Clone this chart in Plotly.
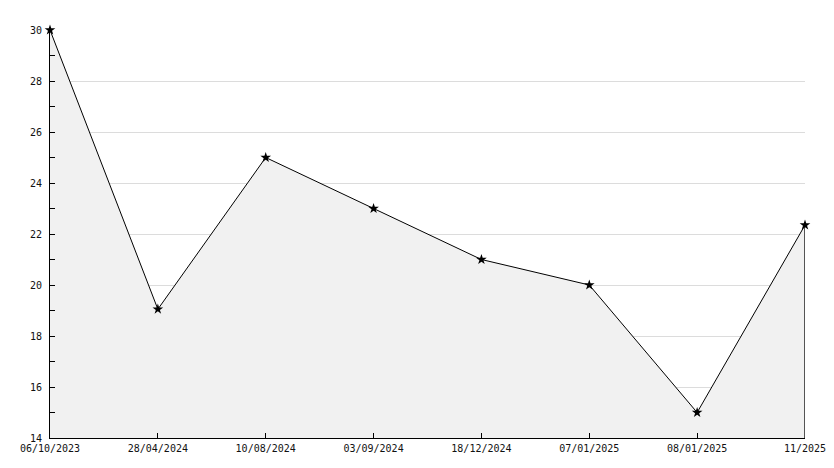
import plotly.graph_objects as go

dates = ["06/10/2023", "28/04/2024", "10/08/2024", "03/09/2024",
         "18/12/2024", "07/01/2025", "08/01/2025", "11/2025"]
values = [30, 19.05, 25, 23, 21, 20, 15, 22.35]
y_min, y_max = 14, 30
y_ticks = [14, 16, 18, 20, 22, 24, 26, 28, 30]

fig = go.Figure()
fig.add_trace(go.Scatter(
    x=dates, y=values, mode="lines",
    line=dict(color="black", width=1),
    fill="tozeroy", fillcolor="#f1f1f1",
    hoverinfo="skip", showlegend=False, cliponaxis=False,
))
# right edge closing line of the area
fig.add_trace(go.Scatter(
    x=[dates[-1], dates[-1]], y=[y_min, values[-1]], mode="lines",
    line=dict(color="black", width=1.3), hoverinfo="skip", showlegend=False,
    cliponaxis=False,
))
fig.add_trace(go.Scatter(
    x=dates, y=values, mode="markers",
    marker=dict(symbol="star", size=8, color="black"),
    hoverinfo="x+y", showlegend=False, cliponaxis=False,
))

fig.update_layout(
    width=834, height=468,
    margin=dict(l=50, r=29, t=30, b=30),
    paper_bgcolor="white", plot_bgcolor="white",
    font=dict(family="DejaVu Sans Mono", size=10, color="#111"),
    xaxis=dict(
        type="category", categoryorder="array", categoryarray=dates,
        range=[0, len(dates) - 1], automargin=False,
        showgrid=False, zeroline=False,
        showline=True, linecolor="black", linewidth=1,
        ticks="inside", ticklen=5, tickcolor="black",
        tickfont=dict(size=10), ticklabelstandoff=1,
    ),
    yaxis=dict(
        range=[y_min, y_max], tickvals=y_ticks, automargin=False,
        showgrid=True, gridcolor="#dcdcdc", gridwidth=1,
        zeroline=False,
        showline=True, linecolor="black", linewidth=1,
        ticks="inside", ticklen=5, tickcolor="black",
        minor=dict(ticks="inside", ticklen=5, dtick=1, tickcolor="black", showgrid=False),
        tickfont=dict(size=10), ticklabelstandoff=5,
    ),
)

fig.write_html("out.html", config={"displayModeBar": False},
               post_script="document.body.style.margin='0';document.body.style.overflow='hidden';")
